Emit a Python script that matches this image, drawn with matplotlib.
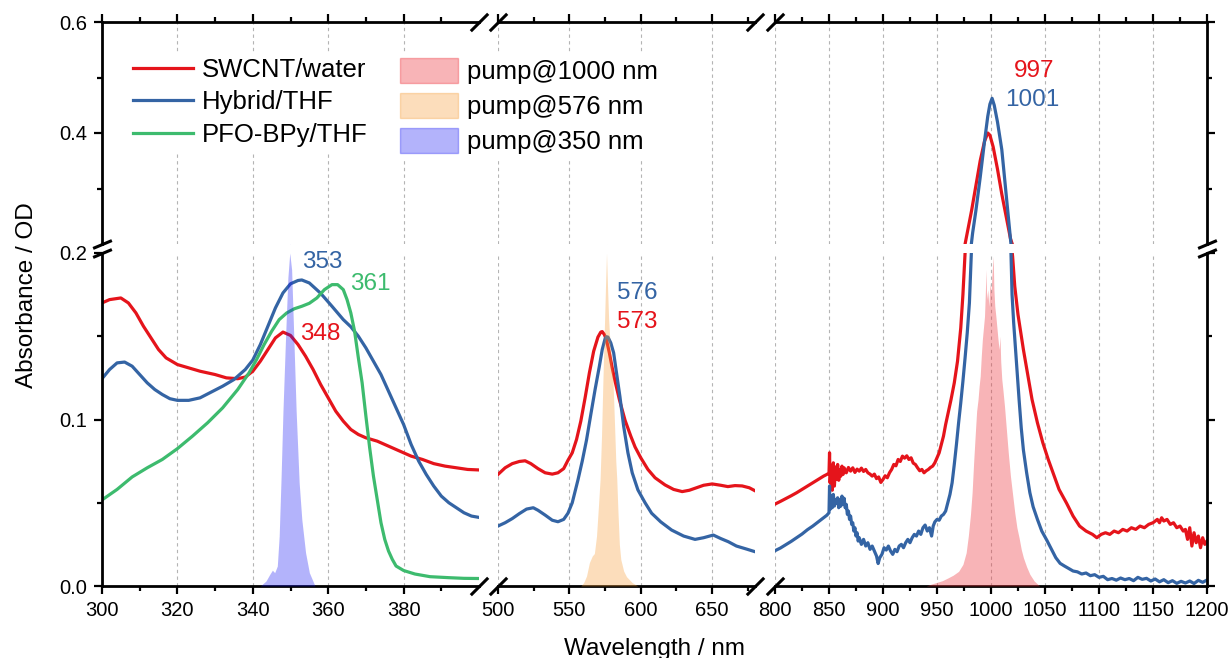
import matplotlib
matplotlib.use("Agg")
import matplotlib.pyplot as plt
from matplotlib.lines import Line2D
from matplotlib.patches import Patch
from matplotlib.ticker import FixedLocator, FormatStrFormatter, NullFormatter

plt.rcParams['font.family'] = ['Liberation Sans', 'DejaVu Sans']

# ---------------- absorbance spectra (wavelength nm, absorbance OD) ----------------
swcnt_uv = [(300, 0.170), (302, 0.172), (305, 0.173), (307, 0.170), (309, 0.164), (311, 0.156),
            (313, 0.149), (315, 0.142), (317, 0.137), (320, 0.133), (323, 0.131), (326, 0.129),
            (330, 0.127), (333, 0.125), (336, 0.1245), (338, 0.1255), (340, 0.129), (342, 0.135),
            (344, 0.142), (346, 0.149), (348, 0.1525), (350, 0.1505), (352, 0.145), (354, 0.138),
            (356, 0.130), (358, 0.121), (360, 0.113), (362, 0.105), (364, 0.099), (366, 0.094),
            (368, 0.091), (370, 0.089), (373, 0.087), (376, 0.084), (379, 0.081), (382, 0.078),
            (385, 0.076), (388, 0.0735), (391, 0.072), (394, 0.071), (397, 0.070), (400, 0.0697)]

hybrid_uv = [(300, 0.1245), (302, 0.130), (304, 0.134), (306, 0.1345), (308, 0.132), (310, 0.127),
             (312, 0.122), (314, 0.118), (316, 0.115), (318, 0.1125), (320, 0.1115), (323, 0.1115),
             (326, 0.113), (329, 0.1165), (332, 0.120), (335, 0.124), (338, 0.130), (340, 0.1357),
             (342, 0.145), (344, 0.156), (346, 0.167), (348, 0.176), (350, 0.1815), (352, 0.1835),
             (353, 0.1838), (355, 0.182), (358, 0.1758), (361, 0.168), (364, 0.160), (366, 0.1557),
             (368, 0.150), (370, 0.143), (372, 0.135), (374, 0.127), (376, 0.117), (378, 0.107),
             (380, 0.097), (382, 0.085), (384, 0.075), (386, 0.067), (388, 0.060), (390, 0.054),
             (392, 0.050), (394, 0.047), (396, 0.044), (398, 0.042), (400, 0.0412)]

pfo_uv = [(300, 0.0517), (304, 0.058), (308, 0.0655), (312, 0.071), (316, 0.076), (320, 0.0825),
          (324, 0.090), (328, 0.098), (332, 0.107), (336, 0.118), (339, 0.128), (341, 0.136),
          (343, 0.145), (345, 0.153), (347, 0.160), (349, 0.164), (351, 0.1665), (353, 0.168),
          (355, 0.1698), (357, 0.173), (359, 0.178), (361, 0.181), (362.5, 0.181), (364, 0.178),
          (365, 0.172), (366, 0.164), (367, 0.153), (368, 0.137), (369, 0.122), (370, 0.102),
          (371, 0.083), (372, 0.066), (373, 0.052), (374, 0.038), (375, 0.028), (376, 0.021),
          (377, 0.016), (378, 0.012), (380, 0.0093), (383, 0.0072), (387, 0.0056), (392, 0.005),
          (396, 0.0046), (400, 0.0045)]

swcnt_vis = [(500, 0.067), (505, 0.071), (510, 0.0735), (515, 0.0748), (519, 0.0752), (523, 0.0735),
             (528, 0.0705), (533, 0.068), (538, 0.0672), (542, 0.068), (546, 0.0705), (549, 0.0755),
             (552, 0.080), (555, 0.088), (558, 0.099), (561, 0.113), (564, 0.128), (567, 0.141),
             (570, 0.1495), (572, 0.1525), (573, 0.1528), (574.5, 0.151), (576, 0.1477), (578, 0.140),
             (580, 0.131), (582, 0.123), (585, 0.112), (589, 0.0995), (593, 0.090), (596, 0.0835),
             (600, 0.077), (605, 0.070), (610, 0.065), (617, 0.0607), (623, 0.058), (629, 0.0567),
             (634, 0.0575), (638, 0.0587), (644, 0.0605), (650, 0.0613), (656, 0.0605), (661, 0.0597),
             (666, 0.0603), (671, 0.0601), (676, 0.059), (680, 0.0572)]

hybrid_vis = [(500, 0.036), (505, 0.038), (510, 0.0405), (515, 0.0435), (520, 0.0462), (524.7, 0.047),
              (528, 0.0455), (533, 0.0426), (538, 0.0395), (542, 0.0386), (546, 0.040), (549, 0.0437),
              (552, 0.050), (556, 0.0637), (559, 0.075), (562, 0.0877), (565, 0.103), (568, 0.118),
              (571, 0.132), (573, 0.142), (575, 0.1485), (576, 0.1497), (577, 0.1495), (579, 0.146),
              (581, 0.140), (583, 0.128), (585.4, 0.1137), (588, 0.096), (591, 0.080), (594, 0.068),
              (598, 0.0577), (603, 0.050), (607.6, 0.0437), (614, 0.0385), (621.6, 0.0336), (630, 0.030),
              (638, 0.028), (644, 0.029), (650.8, 0.0306), (656, 0.0285), (661.3, 0.0266), (667, 0.024),
              (674, 0.0222), (680, 0.0206)]

swcnt_nir = [(800, 0.0492), (805, 0.0508), (810, 0.0525), (815, 0.0542), (820, 0.0560), (825, 0.0580),
             (830, 0.0600), (835, 0.0620), (840, 0.0640), (845, 0.0660), (848, 0.0670), (850, 0.0678),
             (850.5, 0.0800), (851, 0.0620), (852, 0.0720), (853, 0.0575), (854, 0.0740), (855, 0.0600),
             (856, 0.0715), (857, 0.0640), (858, 0.0730), (859, 0.0635), (860, 0.0700), (861, 0.0660),
             (862, 0.0720), (863, 0.0670), (864, 0.0710), (866, 0.0680), (868, 0.0712), (870, 0.0690),
             (872, 0.0710), (874, 0.0682), (876, 0.0702), (878, 0.0690), (880, 0.0708), (882, 0.0688),
             (884, 0.0700), (886, 0.0680), (888, 0.0672), (890, 0.0660), (892, 0.0672), (894, 0.0645),
             (896, 0.0655), (898, 0.0622), (900, 0.0640), (902, 0.0662), (904, 0.0650), (906, 0.0680),
             (908, 0.0700), (910, 0.0730), (912, 0.0722), (914, 0.0760), (916, 0.0748), (918, 0.0780),
             (920, 0.0768), (922, 0.0782), (924, 0.0760), (926, 0.0770), (928, 0.0738), (930, 0.0730),
             (932, 0.0710), (934, 0.0692), (936, 0.0700), (938, 0.0680), (940, 0.0692), (942, 0.0700),
             (944, 0.0712), (946, 0.0720), (948, 0.0740), (950, 0.0770), (952, 0.0800), (954, 0.0850),
             (956, 0.0900), (958, 0.0970), (960, 0.1030), (963, 0.1120), (966, 0.1220), (969, 0.1350),
             (972, 0.1550), (974, 0.1750), (976, 0.2000), (979, 0.2300), (982, 0.2600), (986, 0.3050),
             (990, 0.3500), (994, 0.3850), (997, 0.4000), (999, 0.3960), (1002, 0.3750), (1006, 0.3350),
             (1010, 0.2900), (1014, 0.2500), (1018, 0.2100), (1020, 0.1980), (1022, 0.1800), (1025, 0.1630),
             (1030, 0.1420), (1034, 0.1270), (1038, 0.1120), (1043, 0.0980), (1048, 0.0860), (1053, 0.0760),
             (1058, 0.0670), (1063, 0.0580), (1070, 0.0497), (1076, 0.0420), (1082, 0.0360), (1088, 0.0330),
             (1094, 0.0310), (1098, 0.0290), (1102, 0.0310), (1106, 0.0320), (1110, 0.0310), (1114, 0.0330),
             (1118, 0.0320), (1122, 0.0340), (1126, 0.0330), (1130, 0.0350), (1134, 0.0340), (1138, 0.0360),
             (1142, 0.0350), (1146, 0.0370), (1150, 0.0380), (1154, 0.0400), (1156, 0.0380), (1158, 0.0410),
             (1160, 0.0390), (1163, 0.0400), (1166, 0.0370), (1169, 0.0380), (1172, 0.0350), (1175, 0.0360),
             (1178, 0.0330), (1180, 0.0340), (1182, 0.0280), (1184, 0.0350), (1186, 0.0240), (1188, 0.0320),
             (1190, 0.0260), (1192, 0.0300), (1194, 0.0230), (1196, 0.0290), (1198, 0.0250), (1200, 0.0270)]

hybrid_nir = [(800, 0.0212), (805, 0.0228), (810, 0.0248), (815, 0.0268), (820, 0.0290), (825, 0.0312),
              (830, 0.0338), (835, 0.0360), (840, 0.0385), (845, 0.0410), (848, 0.0425), (850, 0.0440),
              (850.5, 0.0600), (851, 0.0460), (852, 0.0540), (853, 0.0470), (854, 0.0550), (855, 0.0480),
              (856, 0.0520), (857, 0.0497), (858, 0.0530), (859, 0.0470), (860, 0.0520), (861, 0.0480),
              (862, 0.0540), (863, 0.0490), (864, 0.0527), (865, 0.0470), (866, 0.0490), (867, 0.0430),
              (868, 0.0450), (869, 0.0400), (870, 0.0420), (871, 0.0370), (872, 0.0380), (873, 0.0330),
              (874, 0.0350), (875, 0.0300), (876, 0.0320), (877, 0.0270), (878, 0.0290), (880, 0.0250),
              (882, 0.0280), (884, 0.0240), (886, 0.0260), (888, 0.0220), (890, 0.0240), (892, 0.0210),
              (894, 0.0180), (895.5, 0.0135), (897, 0.0170), (899, 0.0190), (901, 0.0230), (903, 0.0216),
              (905, 0.0240), (907, 0.0210), (909, 0.0190), (911, 0.0220), (913, 0.0206), (915, 0.0240),
              (917, 0.0250), (919, 0.0230), (921, 0.0260), (923, 0.0280), (925, 0.0260), (927, 0.0290),
              (929, 0.0310), (931, 0.0300), (933, 0.0330), (935, 0.0310), (937, 0.0350), (939, 0.0366),
              (941, 0.0330), (943, 0.0350), (945, 0.0300), (946.5, 0.0360), (948, 0.0385), (950, 0.0400),
              (952, 0.0395), (954, 0.0420), (956, 0.0430), (958, 0.0450), (960, 0.0500), (962, 0.0550),
              (964, 0.0620), (966, 0.0730), (968, 0.0850), (970, 0.0980), (972, 0.1100), (974, 0.1230),
              (976, 0.1370), (978, 0.1520), (980, 0.1700), (981.5, 0.1950), (983, 0.2200), (986, 0.2600),
              (990, 0.3200), (994, 0.3850), (997, 0.4300), (999, 0.4520), (1001, 0.4625), (1003, 0.4500),
              (1006, 0.4200), (1010, 0.3700), (1014, 0.2900), (1017, 0.2280), (1018.5, 0.2000),
              (1019.5, 0.1750), (1021, 0.1580), (1023.8, 0.1317), (1026, 0.1120), (1028, 0.0950),
              (1030, 0.0817), (1033, 0.0680), (1036, 0.0560), (1039, 0.0476), (1043, 0.0400), (1047, 0.0330),
              (1051.6, 0.0276), (1056, 0.0220), (1060, 0.0170), (1064, 0.0136), (1068, 0.0120), (1072, 0.0105),
              (1076, 0.0090), (1080, 0.0085), (1084, 0.0072), (1088, 0.0078), (1092, 0.0062), (1096, 0.0068),
              (1100, 0.0052), (1104, 0.0058), (1108, 0.0038), (1112, 0.0045), (1116, 0.0035), (1120, 0.0048),
              (1124, 0.0038), (1128, 0.0045), (1132, 0.0032), (1136, 0.0052), (1140, 0.0040), (1144, 0.0046),
              (1148, 0.0030), (1152, 0.0042), (1156, 0.0025), (1160, 0.0038), (1164, 0.0020), (1168, 0.0032),
              (1172, 0.0016), (1176, 0.0028), (1180, 0.0018), (1184, 0.0030), (1188, 0.0015), (1192, 0.0034),
              (1196, 0.0022), (1200, 0.0036)]

# ---------------- pump laser spectra (scaled) ----------------
pump_350 = [(342, 0.0), (343.5, 0.003), (344.5, 0.007), (345.2, 0.0095), (345.8, 0.008), (346.5, 0.012),
            (347, 0.03), (347.5, 0.065), (348, 0.105), (348.7, 0.15), (349.3, 0.185), (349.8, 0.2),
            (350.3, 0.19), (350.8, 0.155), (351.5, 0.105), (352.3, 0.062), (353, 0.04), (354, 0.02),
            (355, 0.008), (356.5, 0.0)]

pump_576 = [(558, 0.0), (560, 0.002), (562, 0.006), (564, 0.014), (566, 0.018), (567.5, 0.0195),
            (569, 0.03), (570.5, 0.05), (571.5, 0.064), (572.5, 0.09), (573.5, 0.124), (574.5, 0.155),
            (575.3, 0.18), (576, 0.2), (576.7, 0.18), (577.5, 0.16), (578.5, 0.145), (579.5, 0.135),
            (580.5, 0.124), (581.5, 0.1), (582.5, 0.075), (583.2, 0.064), (584, 0.045), (585, 0.025),
            (586, 0.016), (588, 0.009), (590, 0.0056), (594, 0.002), (598, 0.0)]

pump_1000 = [(940, 0.0), (945, 0.0012), (950, 0.0022), (955, 0.0032), (960, 0.0048), (965, 0.0065),
             (970, 0.0088), (974, 0.013), (977, 0.020), (979, 0.030), (981, 0.043), (982.5, 0.056),
             (984, 0.075), (985.5, 0.092), (986.7, 0.105), (988, 0.112), (989, 0.12), (990, 0.126),
             (991, 0.138), (992, 0.148), (993, 0.155), (994, 0.162), (994.7, 0.175), (995.4, 0.19),
             (996, 0.172), (997, 0.178), (998, 0.168), (999, 0.182), (1000, 0.176), (1001, 0.188),
             (1002, 0.198), (1002.7, 0.178), (1003.5, 0.168), (1004.5, 0.162), (1005.5, 0.155),
             (1006.5, 0.148), (1007.5, 0.142), (1008.3, 0.150), (1009, 0.135), (1010, 0.124),
             (1011, 0.118), (1012.5, 0.108), (1014, 0.096), (1016, 0.080), (1018, 0.066), (1020, 0.055),
             (1022, 0.044), (1024, 0.035), (1026, 0.029), (1028, 0.022), (1030, 0.017), (1033, 0.0115),
             (1036, 0.007), (1040, 0.003), (1045, 0.0)]

# peak annotations: (text, wavelength of the label, OD of the label, series)
peak_labels = [("353", 353.0, 0.1946, "hybrid"), ("361", 365.8, 0.1814, "pfo"),
               ("348", 352.5, 0.1514, "swcnt"), ("576", 583.3, 0.1760, "hybrid"),
               ("573", 583.3, 0.1586, "swcnt"), ("997", 1021.3, 0.5117, "swcnt"),
               ("1001", 1013.0, 0.4595, "hybrid")]

series_names = ["SWCNT/water", "Hybrid/THF", "PFO-BPy/THF"]
pump_names = ["pump@1000 nm", "pump@576 nm", "pump@350 nm"]

# ---------------- styling ----------------
C = {"swcnt": "#E5141B", "hybrid": "#3464A4", "pfo": "#3DBB6E"}
FILL = {"p1000": ("#EE3A42", 0.38), "p576": ("#F7A03C", 0.35), "p350": ("#1515F5", 0.32)}

W, H = 1230, 658
fig = plt.figure(figsize=(W / 100, H / 100), dpi=100)

col_px = [(102, 479), (498, 755), (775, 1207)]
row_px = [(22, 244), (253, 586)]
xlims = [(300, 400), (500, 680), (800, 1200)]
ylims = [(0.2, 0.6), (0.0, 0.2)]
x_major = [[300, 320, 340, 360, 380], [500, 550, 600, 650], list(range(800, 1201, 50))]
x_minor = [[310, 330, 350, 370, 390], [525, 575, 625, 675], list(range(825, 1200, 50))]
y_major = [[0.4, 0.6], [0.0, 0.1, 0.2]]
y_minor = [[0.3, 0.5], [0.05, 0.15]]

line_series = [
    [(swcnt_uv, "swcnt"), (hybrid_uv, "hybrid"), (pfo_uv, "pfo")],
    [(swcnt_vis, "swcnt"), (hybrid_vis, "hybrid")],
    [(swcnt_nir, "swcnt"), (hybrid_nir, "hybrid")],
]
fill_series = [[(pump_350, "p350")], [(pump_576, "p576")], [(pump_1000, "p1000")]]

SPINE_W = 2.0
TICK_FS = 14.5
x_break = [(-1, -1), (1, 1)]
y_break = [(-1, -0.42), (1, 0.42)]

axes = {}
for r, (top, bot) in enumerate(row_px):
    for c, (left, right) in enumerate(col_px):
        ax = fig.add_axes([left / W, 1 - bot / H, (right - left) / W, (bot - top) / H])
        axes[(r, c)] = ax
        ax.set_xlim(*xlims[c])
        ax.set_ylim(*ylims[r])

        for data, key in line_series[c]:
            xs, ys = zip(*data)
            ax.plot(xs, ys, color=C[key], lw=2.3, zorder=2, solid_joinstyle='round')
        for data, key in fill_series[c]:
            xs, ys = zip(*data)
            col, a = FILL[key]
            ax.fill_between(xs, 0, ys, color=col, alpha=a, lw=0, zorder=3)

        # spines
        for s in ax.spines.values():
            s.set_linewidth(SPINE_W)
            s.set_visible(False)
        ax.spines['top' if r == 0 else 'bottom'].set_visible(True)
        if c == 0:
            ax.spines['left'].set_visible(True)
        if c == 2:
            ax.spines['right'].set_visible(True)

        # x ticks
        ax.xaxis.set_major_locator(FixedLocator(x_major[c]))
        ax.xaxis.set_minor_locator(FixedLocator(x_minor[c]))
        if r == 0:
            ax.xaxis.set_ticks_position('top')
            ax.tick_params(axis='x', which='both', labeltop=False, labelbottom=False)
        else:
            ax.xaxis.set_ticks_position('bottom')
        ax.tick_params(axis='x', which='major', direction='out', length=5.5, width=1.6,
                       labelsize=TICK_FS, pad=5)
        ax.tick_params(axis='x', which='minor', direction='out', length=3.5, width=1.6)

        # y ticks
        ax.yaxis.set_major_locator(FixedLocator(y_major[r]))
        ax.yaxis.set_minor_locator(FixedLocator(y_minor[r]))
        ax.yaxis.set_major_formatter(FormatStrFormatter('%.1f'))
        ax.yaxis.set_minor_formatter(NullFormatter())
        if c == 0:
            ax.yaxis.set_ticks_position('left')
        elif c == 2:
            ax.yaxis.set_ticks_position('right')
            ax.tick_params(axis='y', which='both', labelright=False, labelleft=False)
        else:
            ax.tick_params(axis='y', which='both', left=False, right=False,
                           labelleft=False, labelright=False)
        ax.tick_params(axis='y', which='major', direction='out', length=5.5, width=1.6,
                       labelsize=TICK_FS, pad=5)
        ax.tick_params(axis='y', which='minor', direction='out', length=3.5, width=1.6)

        ax.grid(axis='x', which='major', color='#B4B4B4', lw=0.8, ls=(0, (3, 3)))
        ax.set_facecolor('none')

        # axis-break marks
        yspine = 1 if r == 0 else 0
        bx = []
        if c in (1, 2):
            bx.append(0)
        if c in (0, 1):
            bx.append(1)
        for xb in bx:
            ax.plot([xb], [yspine], transform=ax.transAxes, marker=x_break, ms=12.5,
                    mec='k', mew=2.2, ls='none', clip_on=False, zorder=10)
        yb = 0 if r == 0 else 1
        if c == 0:
            ax.plot([0], [yb], transform=ax.transAxes, marker=y_break, ms=13.5,
                    mec='k', mew=2.2, ls='none', clip_on=False, zorder=10)
        if c == 2:
            ax.plot([1], [yb], transform=ax.transAxes, marker=y_break, ms=13.5,
                    mec='k', mew=2.2, ls='none', clip_on=False, zorder=10)

# peak labels
for text, xv, yv, key in peak_labels:
    c = 0 if xv < 450 else (1 if xv < 750 else 2)
    r = 0 if yv > 0.2 else 1
    axes[(r, c)].text(xv, yv, text, color=C[key], fontsize=17.5, ha='left', va='center', zorder=6)

# legends
LEG_TOP = 1 - 52.5 / H
line_handles = [Line2D([], [], color=C[k], lw=2.3) for k in ("swcnt", "hybrid", "pfo")]
leg1 = fig.legend(line_handles, series_names, loc='upper left',
                  bbox_to_anchor=(128 / W, LEG_TOP), fontsize=18.5,
                  handlelength=2.33, handletextpad=0.35, labelspacing=0.34,
                  borderpad=0.2, borderaxespad=0, frameon=True, facecolor='white',
                  edgecolor='none', framealpha=1, fancybox=False)
patch_handles = []
for k in ("p1000", "p576", "p350"):
    col, a = FILL[k]
    patch_handles.append(Patch(facecolor=col, edgecolor=col, alpha=a, lw=1.0))
leg2 = fig.legend(patch_handles, pump_names, loc='upper left',
                  bbox_to_anchor=(394.5 / W, LEG_TOP), fontsize=18.5,
                  handlelength=2.26, handleheight=1.12, handletextpad=0.35, labelspacing=0.34,
                  borderpad=0.2, borderaxespad=0, frameon=True, facecolor='white',
                  edgecolor='none', framealpha=1, fancybox=False)

# axis titles
fig.text(654 / W, 1 - 654.5 / H, "Wavelength / nm", fontsize=17.5, ha='center', va='baseline')
fig.text(33 / W, 1 - 295.5 / H, "Absorbance / OD", fontsize=17.5, rotation=90,
         rotation_mode='anchor', ha='center', va='baseline')

fig.savefig("out.png", dpi=100)
